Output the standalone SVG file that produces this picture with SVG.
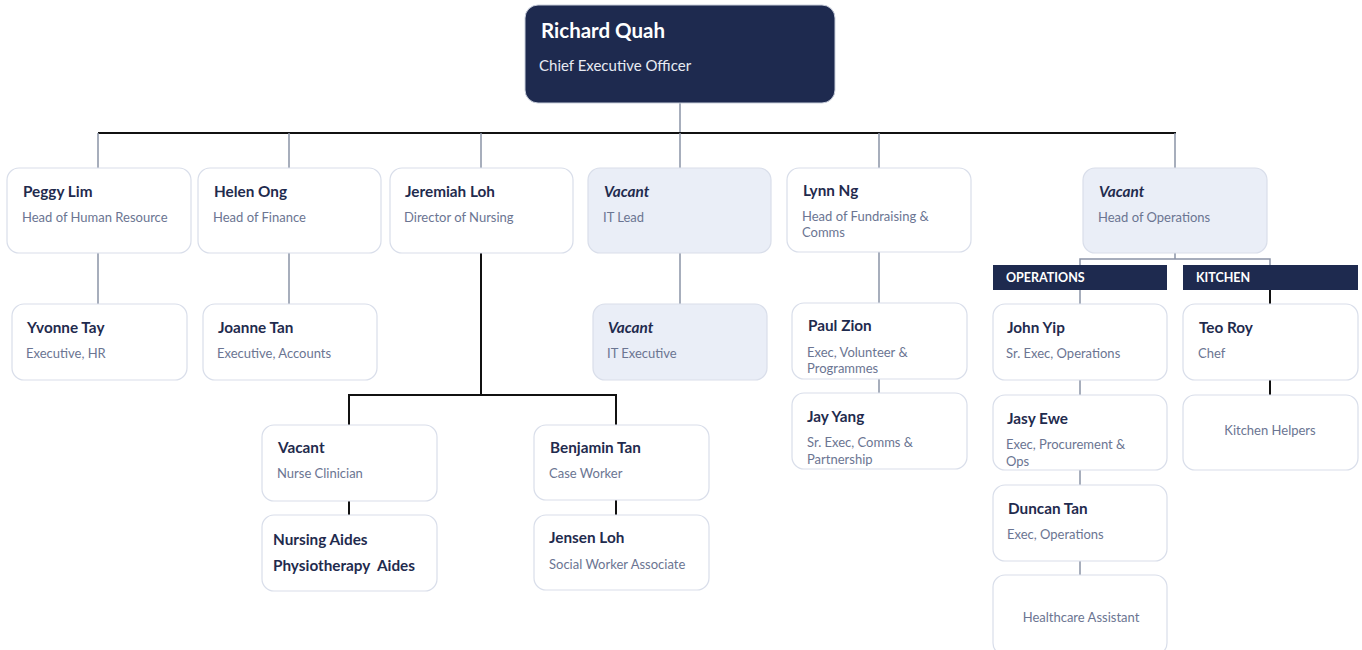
<svg xmlns="http://www.w3.org/2000/svg" width="1362" height="650" viewBox="0 0 1362 650">
<style>
.box{fill:#ffffff;stroke:#d9deea;stroke-width:1.2}
.vac{fill:#eaeef7;stroke:#d9deea;stroke-width:1.2}
.nm{font-family:Lato,"Open Sans",sans-serif;font-weight:bold;font-size:15.3px;fill:#1f2b4e}
.vi{font-style:italic}
.tt{font-family:Lato,"Open Sans",sans-serif;font-size:13px;fill:#6b7592}
.bar{fill:#1e2a4f}
.bt{font-family:Lato,"Open Sans",sans-serif;font-weight:bold;font-size:12.5px;fill:#ffffff}
.g{stroke:#8a93a6;stroke-width:1.5;fill:none}
.k{stroke:#111111;stroke-width:2;fill:none}
</style>
<rect width="1362" height="650" fill="#ffffff"/>
<g id="connectors">
<line class="g" x1="680" y1="103" x2="680" y2="133"/>
<line class="k" x1="98" y1="133" x2="1176" y2="133"/>
<line class="g" x1="98" y1="133" x2="98" y2="168"/>
<line class="g" x1="289" y1="133" x2="289" y2="168"/>
<line class="g" x1="481" y1="133" x2="481" y2="168"/>
<line class="g" x1="680" y1="133" x2="680" y2="168"/>
<line class="g" x1="879" y1="133" x2="879" y2="168"/>
<line class="g" x1="1175" y1="133" x2="1175" y2="168"/>
<line class="g" x1="98" y1="253" x2="98" y2="304"/>
<line class="g" x1="289" y1="253" x2="289" y2="304"/>
<line class="g" x1="680" y1="253" x2="680" y2="304"/>
<line class="g" x1="879" y1="252" x2="879" y2="303"/>
<line class="g" x1="879" y1="379" x2="879" y2="393"/>
<polyline class="k" points="481,253 481,395"/>
<polyline class="k" points="349,425 349,395 616,395 616,425"/>
<line class="k" x1="349" y1="501" x2="349" y2="515"/>
<line class="k" x1="616" y1="500" x2="616" y2="515"/>
<line class="g" x1="1175" y1="253" x2="1175" y2="259"/>
<polyline class="g" points="1080,265 1080,259 1270,259 1270,265"/>
<line class="g" x1="1080" y1="290" x2="1080" y2="304"/>
<line class="k" x1="1270" y1="290" x2="1270" y2="304"/>
<line class="g" x1="1080" y1="380" x2="1080" y2="395"/>
<line class="g" x1="1080" y1="470" x2="1080" y2="485"/>
<line class="g" x1="1080" y1="561" x2="1080" y2="575"/>
<line class="k" x1="1270" y1="380" x2="1270" y2="395"/>
</g>
<g id="ceo">
<rect x="525" y="5" width="310" height="98" rx="13" fill="#1e2a4f" stroke="#c9cfdc" stroke-width="1"/>
<text x="541" y="38" font-family="Lato,'Open Sans',sans-serif" font-weight="bold" font-size="20.5" fill="#ffffff">Richard Quah</text>
<text x="539" y="71" font-family="Lato,'Open Sans',sans-serif" font-size="15" fill="#e8ebf3">Chief Executive Officer</text>
</g>
<g id="peggy"><rect class="box" x="7" y="168" width="184" height="85" rx="12"/><text class="nm" x="23" y="197">Peggy Lim</text><text class="tt" x="22" y="222">Head of Human Resource</text></g>
<g id="helen"><rect class="box" x="198" y="168" width="183" height="85" rx="12"/><text class="nm" x="214" y="197">Helen Ong</text><text class="tt" x="213" y="222">Head of Finance</text></g>
<g id="jeremiah"><rect class="box" x="390" y="168" width="183" height="85" rx="12"/><text class="nm" x="405" y="197">Jeremiah Loh</text><text class="tt" x="404" y="222">Director of Nursing</text></g>
<g id="itlead"><rect class="vac" x="588" y="168" width="183" height="85" rx="12"/><text class="nm vi" x="604" y="197">Vacant</text><text class="tt" x="603" y="222">IT Lead</text></g>
<g id="lynn"><rect class="box" x="787" y="168" width="184" height="84" rx="12"/><text class="nm" x="803" y="196">Lynn Ng</text><text class="tt" x="802" y="221">Head of Fundraising &amp;</text><text class="tt" x="802" y="237">Comms</text></g>
<g id="headops"><rect class="vac" x="1083" y="168" width="184" height="85" rx="12"/><text class="nm vi" x="1099" y="197">Vacant</text><text class="tt" x="1098" y="222">Head of Operations</text></g>
<g id="opsbar"><rect class="bar" x="993" y="265" width="174" height="25"/><text class="bt" x="1006" y="282">OPERATIONS</text></g>
<g id="kitchenbar"><rect class="bar" x="1183" y="265" width="175" height="25"/><text class="bt" x="1196" y="282">KITCHEN</text></g>
<g id="yvonne"><rect class="box" x="12" y="304" width="175" height="76" rx="12"/><text class="nm" x="27" y="333">Yvonne Tay</text><text class="tt" x="26" y="358">Executive, HR</text></g>
<g id="joanne"><rect class="box" x="203" y="304" width="174" height="76" rx="12"/><text class="nm" x="218" y="333">Joanne Tan</text><text class="tt" x="217" y="358">Executive, Accounts</text></g>
<g id="itexec"><rect class="vac" x="593" y="304" width="174" height="76" rx="12"/><text class="nm vi" x="608" y="333" fill="#48536f">Vacant</text><text class="tt" x="607" y="358">IT Executive</text></g>
<g id="paul"><rect class="box" x="792" y="303" width="175" height="76" rx="12"/><text class="nm" x="808" y="331">Paul Zion</text><text class="tt" x="807" y="357">Exec, Volunteer &amp;</text><text class="tt" x="807" y="373">Programmes</text></g>
<g id="jay"><rect class="box" x="792" y="393" width="175" height="76" rx="12"/><text class="nm" x="807" y="422">Jay Yang</text><text class="tt" x="807" y="447">Sr. Exec, Comms &amp;</text><text class="tt" x="807" y="464">Partnership</text></g>
<g id="john"><rect class="box" x="993" y="304" width="174" height="76" rx="12"/><text class="nm" x="1007" y="333">John Yip</text><text class="tt" x="1006" y="358">Sr. Exec, Operations</text></g>
<g id="jasy"><rect class="box" x="993" y="395" width="174" height="75" rx="12"/><text class="nm" x="1007" y="424">Jasy Ewe</text><text class="tt" x="1006" y="449">Exec, Procurement &amp;</text><text class="tt" x="1006" y="466">Ops</text></g>
<g id="duncan"><rect class="box" x="993" y="485" width="174" height="76" rx="12"/><text class="nm" x="1008" y="514">Duncan Tan</text><text class="tt" x="1007" y="539">Exec, Operations</text></g>
<g id="healthcare"><rect class="box" x="993" y="575" width="174" height="80" rx="12"/><text class="tt" x="1081" y="622" text-anchor="middle">Healthcare Assistant</text></g>
<g id="teo"><rect class="box" x="1183" y="304" width="175" height="76" rx="12"/><text class="nm" x="1199" y="333">Teo Roy</text><text class="tt" x="1198" y="358">Chef</text></g>
<g id="kitchenhelpers"><rect class="box" x="1183" y="395" width="175" height="75" rx="12"/><text class="tt" x="1270" y="435" text-anchor="middle">Kitchen Helpers</text></g>
<g id="nurseclinician"><rect class="box" x="262" y="425" width="175" height="76" rx="12"/><text class="nm" x="278" y="453">Vacant</text><text class="tt" x="277" y="478">Nurse Clinician</text></g>
<g id="aides"><rect class="box" x="262" y="515" width="175" height="76" rx="12"/><text class="nm" x="273" y="545">Nursing Aides</text><text class="nm" x="273" y="571" xml:space="preserve">Physiotherapy  Aides</text></g>
<g id="benjamin"><rect class="box" x="534" y="425" width="175" height="75" rx="12"/><text class="nm" x="550" y="453">Benjamin Tan</text><text class="tt" x="549" y="478">Case Worker</text></g>
<g id="jensen"><rect class="box" x="534" y="515" width="175" height="75" rx="12"/><text class="nm" x="549" y="543">Jensen Loh</text><text class="tt" x="549" y="569">Social Worker Associate</text></g>
</svg>
